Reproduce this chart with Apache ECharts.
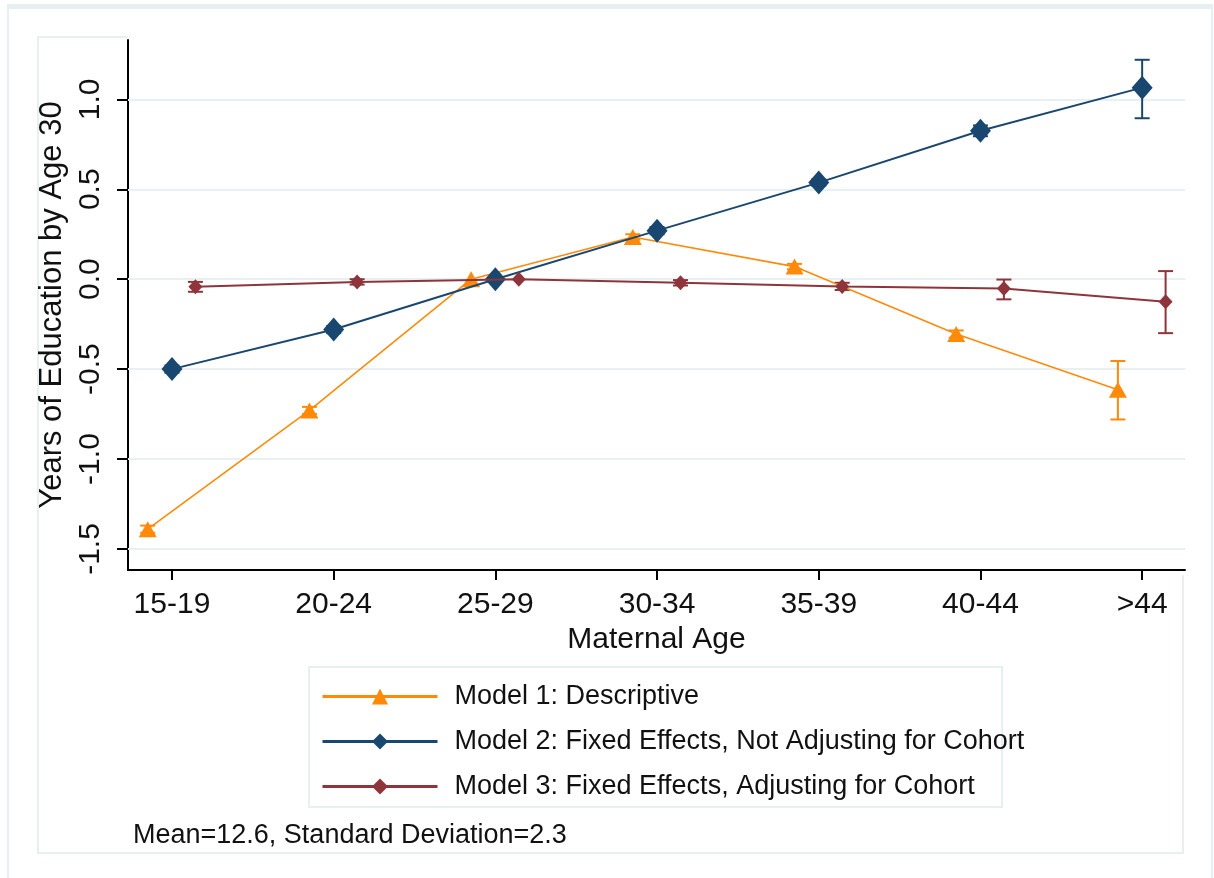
<!DOCTYPE html>
<html>
<head>
<meta charset="utf-8">
<title>Years of Education by Maternal Age</title>
<script src="https://cdn.jsdelivr.net/npm/echarts@6/dist/echarts.min.js"></script>
<style>
  html, body { margin: 0; padding: 0; background: #ffffff; }
  #chart { width: 1214px; height: 878px; }
</style>
</head>
<body>
<div id="chart"></div>
<script>
// Maternal age groups (x axis categories)
const ageGroups = ['15-19', '20-24', '25-29', '30-34', '35-39', '40-44', '>44'];

// Y axis tick values
const yTicks = [-1.5, -1.0, -0.5, 0.0, 0.5, 1.0];

// Model 1: Descriptive (estimate, lower and upper CI)
const model1 = [-1.39, -0.73, 0.0, 0.235, 0.07, -0.305, -0.615];
const model1Low = [-1.41, -0.75, 0.0, 0.22, 0.055, -0.325, -0.78];
const model1High = [-1.37, -0.71, 0.0, 0.25, 0.085, -0.285, -0.455];

// Model 2: Fixed effects, not adjusting for cohort
const model2 = [-0.50, -0.28, 0.0, 0.27, 0.537, 0.825, 1.065];
const model2Low = [-0.52, -0.30, 0.0, 0.25, 0.52, 0.795, 0.895];
const model2High = [-0.48, -0.26, 0.0, 0.29, 0.555, 0.855, 1.22];

// Model 3: Fixed effects, adjusting for cohort
const model3 = [-0.042, -0.015, 0.0, -0.02, -0.04, -0.052, -0.125];
const model3Low = [-0.07, -0.03, 0.0, -0.035, -0.06, -0.112, -0.30];
const model3High = [-0.015, 0.0, 0.0, -0.005, -0.02, -0.002, 0.045];

// Horizontal dodge of each model around its age group
const dodge = { m1: -0.15, m2: 0.0, m3: 0.145 };

const COLORS = { m1: '#ff8a0a', m2: '#1a476f', m3: '#8e353c' };
const FONT = '"Liberation Sans", Arial, Helvetica, sans-serif';
const FRAME = '#e6eff1';

function points(vals, off) {
  return vals.map((v, i) => [i + off, v]);
}
function intervals(lo, hi, off) {
  return lo.map((l, i) => [i + off, l, hi[i]]).filter(d => d[2] - d[1] > 0);
}

function errorBars(color) {
  return function (params, api) {
    const x = api.value(0);
    const p1 = api.coord([x, api.value(1)]);
    const p2 = api.coord([x, api.value(2)]);
    const half = 7.5;
    const style = { stroke: color, lineWidth: 2 };
    return {
      type: 'group',
      children: [
        { type: 'line', shape: { x1: p1[0], y1: p1[1], x2: p2[0], y2: p2[1] }, style: style },
        { type: 'line', shape: { x1: p1[0] - half, y1: p1[1], x2: p1[0] + half, y2: p1[1] }, style: style },
        { type: 'line', shape: { x1: p2[0] - half, y1: p2[1], x2: p2[0] + half, y2: p2[1] }, style: style }
      ]
    };
  };
}

const names = [
  'Model 1: Descriptive',
  'Model 2: Fixed Effects, Not Adjusting for Cohort',
  'Model 3: Fixed Effects, Adjusting for Cohort'
];

const chart = echarts.init(document.getElementById('chart'), null, { renderer: 'canvas' });

chart.setOption({
  animation: false,
  backgroundColor: '#ffffff',
  textStyle: { fontFamily: FONT, color: '#111111' },
  grid: { left: 128, right: 29, top: 40, bottom: 308, containLabel: false },
  xAxis: {
    type: 'value',
    min: -0.272,
    max: 6.265,
    name: 'Maternal Age',
    nameLocation: 'middle',
    nameGap: 40,
    nameTextStyle: { fontFamily: FONT, fontSize: 30, color: '#111111' },
    axisLine: { show: true, onZero: false, lineStyle: { color: '#000000', width: 2 } },
    axisTick: {
      show: true, length: 10, inside: false,
      lineStyle: { color: '#000000', width: 2 },
      customValues: ageGroups.map((_, i) => i)
    },
    axisLabel: {
      show: true, margin: 20,
      fontFamily: FONT, fontSize: 30, color: '#111111',
      customValues: ageGroups.map((_, i) => i),
      formatter: v => ageGroups[Math.round(v)]
    },
    splitLine: { show: false }
  },
  yAxis: {
    type: 'value',
    min: -1.617,
    max: 1.33,
    name: 'Years of Education by Age 30',
    nameLocation: 'middle',
    nameGap: 56,
    nameRotate: 90,
    nameTextStyle: { fontFamily: FONT, fontSize: 31, color: '#111111' },
    axisLine: { show: true, onZero: false, lineStyle: { color: '#000000', width: 2 } },
    axisTick: {
      show: true, length: 11, inside: false,
      lineStyle: { color: '#000000', width: 2 },
      customValues: yTicks
    },
    axisLabel: {
      show: true, margin: 22, rotate: 90,
      fontFamily: FONT, fontSize: 30, color: '#111111',
      customValues: yTicks,
      formatter: v => v.toFixed(1)
    },
    splitLine: { show: false }
  },
  legend: {
    data: names,
    orient: 'vertical',
    left: 321,
    top: 683,
    itemWidth: 115,
    itemHeight: 20,
    itemGap: 18,
    padding: 0,
    selectedMode: false,
    lineStyle: { width: 3 },
    textStyle: { fontFamily: FONT, fontSize: 27, color: '#111111', padding: [0, 0, 0, 12] }
  },
  graphic: [
    // outer frame
    { type: 'rect', z: -10, silent: true, shape: { x: 7, y: 4, width: 1206, height: 5 }, style: { fill: FRAME } },
    { type: 'rect', z: -10, silent: true, shape: { x: 7, y: 4, width: 2, height: 874 }, style: { fill: FRAME } },
    { type: 'rect', z: -10, silent: true, shape: { x: 1211, y: 4, width: 2, height: 874 }, style: { fill: FRAME } },
    // inner frame around the axis area
    { type: 'polyline', z: -10, silent: true,
      shape: { points: [[128, 37], [38, 37], [38, 853], [1183, 853], [1183, 575]] },
      style: { stroke: FRAME, lineWidth: 2, fill: null } },
    // legend box
    { type: 'rect', z: -5, silent: true, shape: { x: 309, y: 667, width: 693, height: 140 },
      style: { fill: '#ffffff', stroke: FRAME, lineWidth: 2 } },
    // note
    { type: 'text', silent: true, left: 133, top: 822,
      style: { text: 'Mean=12.6, Standard Deviation=2.3', font: '27px ' + FONT, fill: '#111111' } }
  ],
  series: [
    {
      // horizontal grid lines at the y ticks
      type: 'line', data: [], z: 1, silent: true,
      markLine: {
        z: 1, silent: true, symbol: 'none', label: { show: false },
        lineStyle: { color: '#e8f0f2', width: 2, type: 'solid' },
        emphasis: { disabled: true },
        data: yTicks.map(v => ({ yAxis: v }))
      }
    },
    {
      type: 'custom', z: 2, silent: true,
      renderItem: errorBars(COLORS.m1),
      data: intervals(model1Low, model1High, dodge.m1)
    },
    {
      type: 'custom', z: 2, silent: true,
      renderItem: errorBars(COLORS.m2),
      data: intervals(model2Low, model2High, dodge.m2)
    },
    {
      type: 'custom', z: 2, silent: true,
      renderItem: errorBars(COLORS.m3),
      data: intervals(model3Low, model3High, dodge.m3)
    },
    {
      name: names[0], type: 'line', z: 3,
      data: points(model1, dodge.m1),
      symbol: 'triangle', symbolSize: [18, 16], showAllSymbol: true,
      lineStyle: { color: COLORS.m1, width: 1.6 },
      itemStyle: { color: COLORS.m1 }
    },
    {
      name: names[1], type: 'line', z: 4,
      data: points(model2, dodge.m2),
      symbol: 'diamond', symbolSize: [21, 24], showAllSymbol: true,
      lineStyle: { color: COLORS.m2, width: 2 },
      itemStyle: { color: COLORS.m2 }
    },
    {
      name: names[2], type: 'line', z: 5,
      data: points(model3, dodge.m3),
      symbol: 'diamond', symbolSize: [14, 15], showAllSymbol: true,
      lineStyle: { color: COLORS.m3, width: 2 },
      itemStyle: { color: COLORS.m3 }
    }
  ]
});
</script>
</body>
</html>
